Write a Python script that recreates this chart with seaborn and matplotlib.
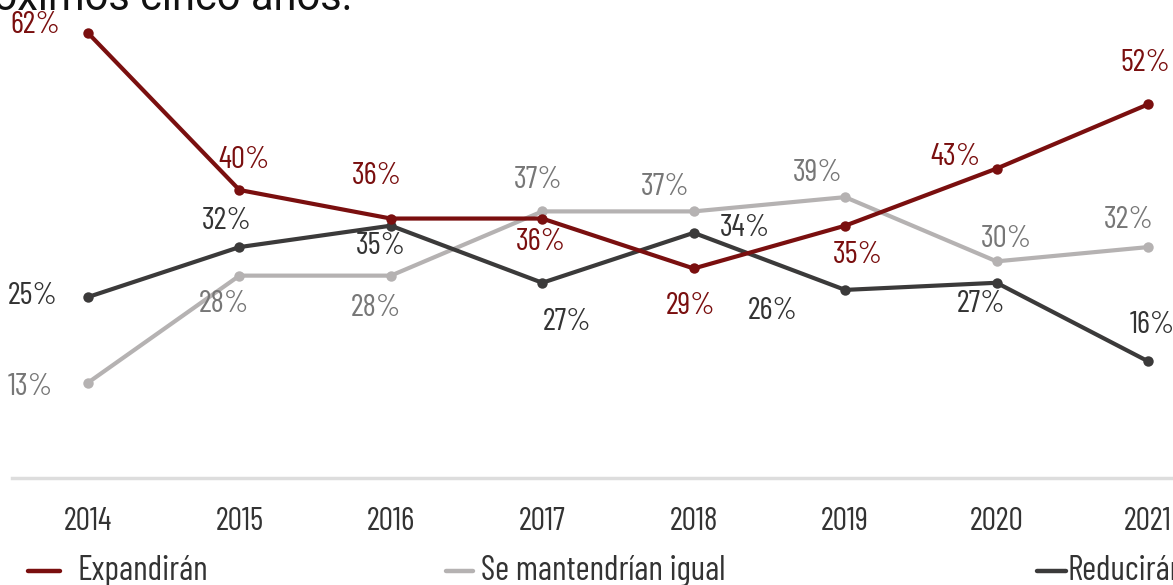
import matplotlib
matplotlib.use("Agg")
import matplotlib.pyplot as plt
import seaborn as sns
import pandas as pd
from matplotlib.lines import Line2D

# ---- data ----
years = [2014, 2015, 2016, 2017, 2018, 2019, 2020, 2021]
series_names = ["Expandirán", "Se mantendrían igual", "Reducirán"]
expandiran = [62, 40, 36, 36, 29, 35, 43, 52]
mantendrian = [13, 28, 28, 37, 37, 39, 30, 32]
reduciran = [25, 32, 35, 27, 34, 26, 27, 16]
title_text = "próximos cinco años."

# ---- styles ----
line_colors = ["#7a0f0f", "#b5b2b2", "#3b3a3a"]
label_colors = ["#7a0f0f", "#777777", "#333333"]
# label offsets in pixels (dx, dy up)
offsets = [
    [(-53, 8), (5, 30), (-14, 43), (-1, -23), (-3, -38), (13, -29), (-41, 12), (-3, 41)],
    [(-58, -4), (-15, -28), (-15, -32), (-4, 31), (-28, 24), (-27, 24), (10, 22), (-19, 27)],
    [(-55, 1), (-13, 26), (-10, -20), (25, -39), (51, 5), (-72, -21), (-16, -21), (4, 36)],
]

sns.set_theme(style="white")
FONT = ["Barlow Condensed", "DejaVu Sans"]
plt.rcParams["font.family"] = FONT

W, H = 1173, 585
fig = plt.figure(figsize=(W / 100, H / 100), dpi=100)

# axes in pixel geometry
ax_left, ax_right = 12, 1173
ax_top, ax_bottom = 0, 478
ax = fig.add_axes([ax_left / W, 1 - ax_bottom / H, (ax_right - ax_left) / W, (ax_bottom - ax_top) / H])

df = pd.DataFrame({
    "year": years * 3,
    "value": expandiran + mantendrian + reduciran,
    "serie": [series_names[0]] * len(years) + [series_names[1]] * len(years) + [series_names[2]] * len(years),
})
sns.lineplot(data=df, x="year", y="value", hue="serie", palette=line_colors,
             marker="o", markersize=7.5, markeredgewidth=0, linewidth=3.0,
             legend=False, ax=ax, hue_order=series_names)

for ln, z in zip(ax.get_lines(), [4, 2, 3]):
    ln.set_zorder(z)

# scales matching pixel geometry
px_per_year = (1148 - 88) / 7
x0 = 2014 - (88 - ax_left) / px_per_year
x1 = 2021 + (ax_right - 1148) / px_per_year
ax.set_xlim(x0, x1)
px_per_pct = (190 - 33) / (62 - 40)
y_top = 62 + (33 - ax_top) / px_per_pct
y_bot = 62 - (ax_bottom - 33) / px_per_pct
ax.set_ylim(y_bot, y_top)

for s, vals in enumerate([expandiran, mantendrian, reduciran]):
    for i, (yr, v) in enumerate(zip(years, vals)):
        dx, dy = offsets[s][i]
        ax.annotate(f"{v}%", (yr, v), xytext=(dx, dy), textcoords="offset pixels",
                    ha="center", va="center", fontsize=22.5, color=label_colors[s],
                    family=FONT, zorder=6, annotation_clip=False)

ax.set_xticks(years)
ax.set_xticklabels([str(y) for y in years], fontsize=23, color="#333333", family=FONT)
ax.tick_params(axis="x", length=0, pad=21)
ax.set_yticks([])
ax.set_xlabel("")
ax.set_ylabel("")
for sp in ["top", "left", "right"]:
    ax.spines[sp].set_visible(False)
ax.spines["bottom"].set_color("#dddddd")
ax.spines["bottom"].set_linewidth(2.5)
ax.patch.set_alpha(0)

# title (cropped at top-left as in reference)
fig.text(352 / W, 1 - 10 / H, title_text, ha="right", va="baseline", fontsize=30,
         color="#111111", family=["Roboto", "DejaVu Sans"])

# legend drawn manually
leg_y = 1 - 571 / H
leg_items = [(28, 60, 77), (446, 473, 481), (1037, 1066, 1068)]
for (xa, xb, xt), name, c in zip(leg_items, series_names, line_colors):
    fig.add_artist(Line2D([xa / W, xb / W], [leg_y, leg_y], color=c, linewidth=3.2,
                          transform=fig.transFigure))
    fig.text(xt / W, leg_y, name, ha="left", va="center", fontsize=24.5,
             color="#333333", family=FONT)

fig.savefig("out.png", dpi=100)
